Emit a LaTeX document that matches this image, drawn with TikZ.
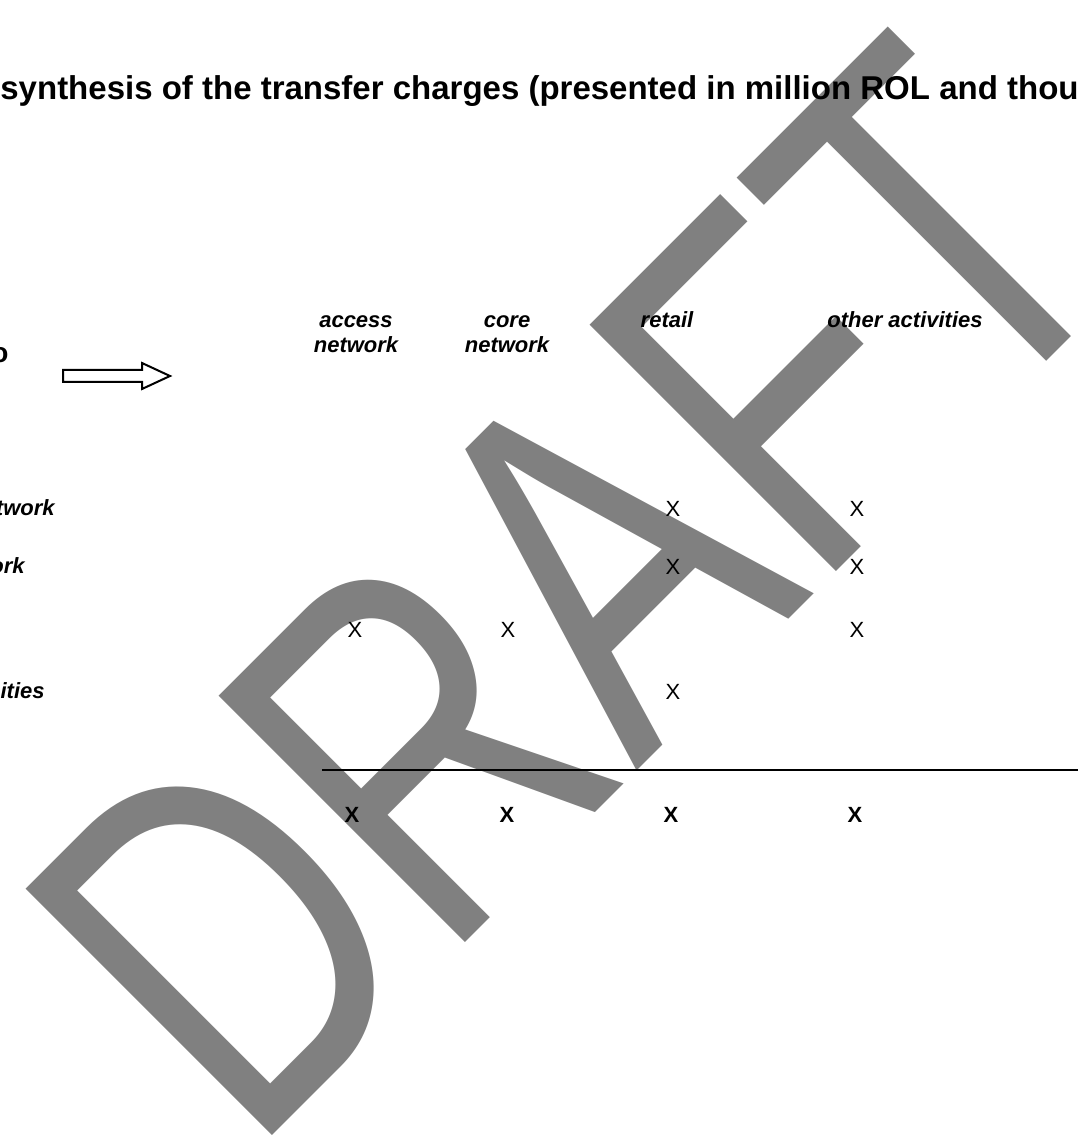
\documentclass[tikz,border=0pt]{standalone}
\usepackage{fontspec}
\setmainfont{Liberation Sans}
\usepackage{tikz}
\usetikzlibrary{positioning}

\begin{document}
\begin{tikzpicture}[
  x=0.5pt, y=-0.5pt,
  wmark/.style={anchor=base west, inner sep=0pt, text=gray,
    font=\fontsize{189}{189}\selectfont, rotate=45, yscale=1.34},
  title/.style={anchor=base west, inner sep=0pt,
    font=\fontsize{16.5}{19}\selectfont\bfseries},
  head/.style={anchor=base, inner sep=0pt, align=center,
    font=\fontsize{11}{12.5}\selectfont\bfseries\itshape},
  rowlab/.style={anchor=base east, inner sep=0pt,
    font=\fontsize{11}{12.5}\selectfont\bfseries\itshape},
  cellx/.style={inner sep=0pt, font=\fontsize{11}{12.5}\selectfont},
  sumx/.style={inner sep=0pt, font=\fontsize{11}{12.5}\selectfont\bfseries},
]
  \useasboundingbox (0,0) rectangle (1078,1143);
  \clip (0,0) rectangle (1078,1143);
  \fill[white] (0,0) rectangle (1078,1143);

  % watermark behind everything
  \begin{scope}[shift={(250,1158)}]
    \node[wmark] (draft) at (0,0) {DRAFT};
  \end{scope}

  \node[title] (title) at (0,100)
    {synthesis of the transfer charges (presented in million ROL and thou};

  % column heads
  \node[anchor=base east, inner sep=0pt, font=\fontsize{14}{16}\selectfont\bfseries]
    (corner) at (9,363) {o};
  \draw[line width=1pt, line join=miter]
    (63,370) -- (142,370) -- (142,363) -- (170,376) -- (142,389)
    -- (142,382) -- (63,382) -- cycle;
  \node[head] (hAccess) at (356,353) {access\\network};
  \node[head] (hCore) at (507,353) {core\\network};
  \node[head] (hRetail) at (667,328) {retail};
  \node[head] (hOther) at (905,328) {other activities};

  % row heads
  \node[rowlab] (rAccess) at (55,515) {twork};
  \node[rowlab] (rCore) at (25,573) {ork};
  \node[rowlab] (rOther) at (45,698) {ities};

  % cells
  \node[cellx] (x13) at (673,509) {X};
  \node[cellx] (x14) at (857,509) {X};
  \node[cellx] (x23) at (673,567) {X};
  \node[cellx] (x24) at (857,567) {X};
  \node[cellx] (x31) at (355,630) {X};
  \node[cellx] (x32) at (508,630) {X};
  \node[cellx] (x34) at (857,630) {X};
  \node[cellx] (x43) at (673,692) {X};

  % total line
  \coordinate (ruleL) at (322,770);
  \coordinate (ruleR) at (1078,770);
  \draw[line width=1pt] (ruleL) -- (ruleR);
  \node[sumx] (s1) at (352,815) {X};
  \node[sumx] (s2) at (507,815) {X};
  \node[sumx] (s3) at (671,815) {X};
  \node[sumx] (s4) at (855,815) {X};
\end{tikzpicture}
\end{document}
